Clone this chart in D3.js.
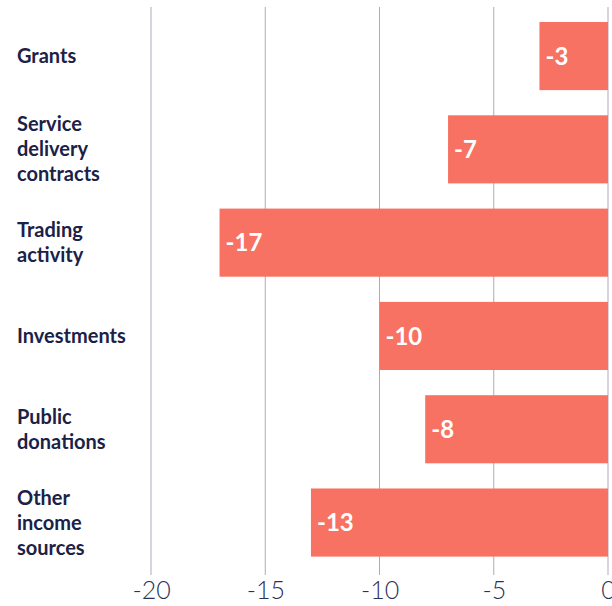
<!DOCTYPE html>
<html>
<head>
<meta charset="utf-8">
<script src="https://cdn.jsdelivr.net/npm/d3@7"></script>
<style>
  body { margin: 0; background: #fff; }
  svg { display: block; }
</style>
</head>
<body>
<div id="chart"></div>
<script>
// chart data
const categories = ['Grants', 'Service delivery contracts', 'Trading activity', 'Investments', 'Public donations', 'Other income sources'];
const labelLines = [['Grants'], ['Service', 'delivery', 'contracts'], ['Trading', 'activity'], ['Investments'], ['Public', 'donations'], ['Other', 'income', 'sources']];
const values = [-3, -7, -17, -10, -8, -13];
const tickValues = [-20, -15, -10, -5, 0];

const WIDTH = 612;
const HEIGHT = 606;
const NAVY = '#1b2147';
const BAR = '#f77262';

const svg = d3.select('#chart')
  .append('svg')
  .attr('width', WIDTH)
  .attr('height', HEIGHT);

const x = d3.scaleLinear()
  .domain([-20, 0])
  .range([151, 608]);

const y = d3.scaleBand()
  .domain(categories)
  .range([9.4, 569.2])
  .paddingInner(0.27)
  .paddingOuter(0.135);

// vertical grid lines
svg.append('g')
  .selectAll('line')
  .data(tickValues)
  .enter()
  .append('line')
  .attr('x1', d => x(d))
  .attr('x2', d => x(d))
  .attr('y1', 7)
  .attr('y2', 575)
  .attr('stroke', '#a9acbc')
  .attr('stroke-width', 1);

// bars
svg.append('g')
  .selectAll('rect')
  .data(values)
  .enter()
  .append('rect')
  .attr('x', d => x(d))
  .attr('y', (d, i) => y(categories[i]))
  .attr('width', d => x(0) - x(d))
  .attr('height', y.bandwidth())
  .attr('fill', BAR);

// value labels
svg.append('g')
  .selectAll('text')
  .data(values)
  .enter()
  .append('text')
  .attr('x', d => x(d) + 6)
  .attr('y', (d, i) => y(categories[i]) + y.bandwidth() / 2)
  .attr('dy', '0.36em')
  .attr('fill', '#fff')
  .style('font-family', 'Lato, sans-serif')
  .style('font-weight', 700)
  .style('font-size', '24px')
  .text(d => d);

// category labels
const lineHeight = 25;
const labels = svg.append('g')
  .selectAll('text')
  .data(categories)
  .enter()
  .append('text')
  .attr('x', 17)
  .attr('y', d => y(d) + y.bandwidth() / 2)
  .attr('fill', NAVY)
  .style('font-family', 'Lato, sans-serif')
  .style('font-weight', 700)
  .style('font-size', '20px');

labels.each(function(d, i) {
  const lines = labelLines[i];
  const off = -(lines.length - 1) / 2 * lineHeight;
  d3.select(this).selectAll('tspan')
    .data(lines)
    .enter()
    .append('tspan')
    .attr('x', 17)
    .attr('dy', (l, j) => j === 0 ? (off + 7) : lineHeight)
    .text(l => l);
});

// x axis labels
const xAxis = d3.axisBottom(x)
  .tickValues(tickValues)
  .tickSize(0)
  .tickPadding(0)
  .tickFormat(d => d);

const axisG = svg.append('g')
  .attr('transform', 'translate(0, 581)')
  .call(xAxis);

axisG.select('.domain').remove();
axisG.selectAll('text')
  .attr('fill', '#2b3152')
  .style('font-family', 'Lato, sans-serif')
  .style('font-weight', 300)
  .style('font-size', '25px');
</script>
</body>
</html>
